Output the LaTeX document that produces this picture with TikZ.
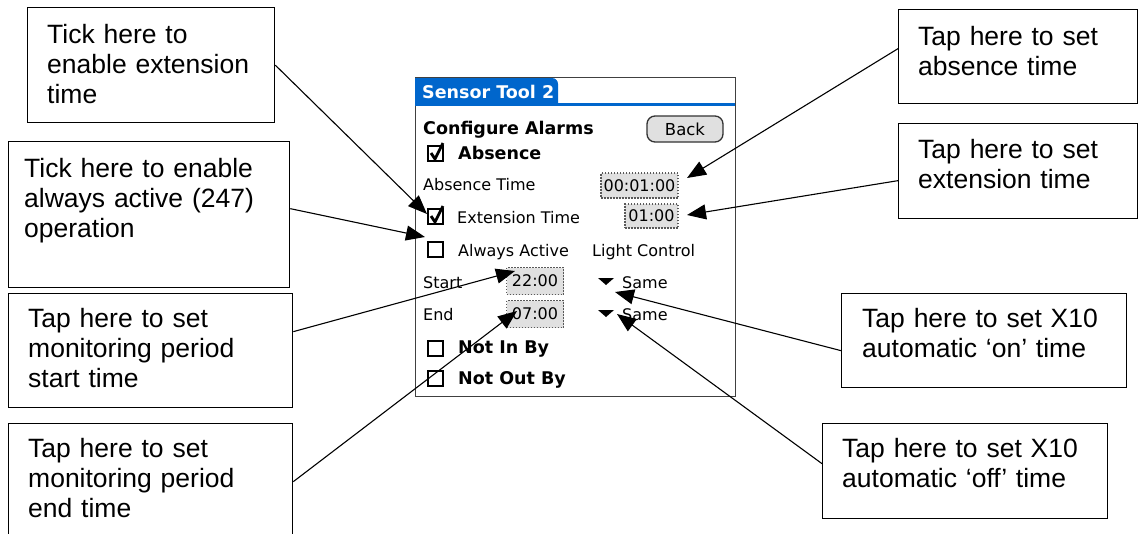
\documentclass[tikz,border=0pt]{standalone}
\usepackage{fontspec}
\setmainfont{Liberation Sans}
\newfontfamily\palm{DejaVu Sans}
\usetikzlibrary{arrows.meta,calc}

\definecolor{palmblue}{RGB}{0,102,204}
\definecolor{fieldgray}{RGB}{224,224,224}

\tikzset{
  callout/.style={draw, line width=1.3pt, inner sep=0pt, anchor=north west},
  note/.style={anchor=base west, inner sep=0pt, align=left, text width=270pt,
    font=\fontsize{26.5}{30}\selectfont},
  conn/.style={line width=1.1pt, -{Triangle[length=19pt,width=15pt]}},
  scr/.style={anchor=base west, inner sep=0pt, font=\palm\fontsize{16}{18}\selectfont},
  scrbold/.style={anchor=base west, inner sep=0pt, font=\palm\bfseries\fontsize{17.5}{19}\selectfont},
  timebox/.style={draw=black!65, dash pattern=on 1.5pt off 1.5pt, line width=1.5pt,
    fill=fieldgray, inner sep=0pt, font=\palm\fontsize{16}{18}\selectfont},
  cbox/.pic={\draw[line width=1.7pt] (0,0) rectangle (15,15);},
  cticked/.pic={\draw[line width=1.7pt] (0,0) rectangle (15,15);
    \draw[line width=2.8pt, line join=miter] (3,7) -- (7,13) -- (15,-3);},
  droptri/.pic={\fill (0,0) -- (16,0) -- (8,7) -- cycle;}
}

\begin{document}
\begin{tikzpicture}[x=1pt, y=-1pt]
\useasboundingbox (0,0) rectangle (1138,533);
\clip (0,0) rectangle (1138,533);

% ---------- handheld screen ----------
\draw[black!75, line width=0.9pt] (415,77) rectangle (735,396);
\fill[palmblue] (415,104) -- (415,78) -- (552,78) to[out=0,in=90] (558,84) -- (558,104) -- cycle;
\draw[palmblue, line width=3pt] (415,104.5) -- (735,104.5);
\node[anchor=base west, inner sep=0pt, text=white, font=\palm\bfseries\fontsize{17.5}{19}\selectfont]
  (title) at (422,98) {Sensor Tool 2};

\node[scrbold] (cfg) at (423,134) {Configure Alarms};
\node[draw=black!80, fill=fieldgray, line width=1.3pt, rounded corners=8pt,
  minimum width=76pt, minimum height=26pt, inner sep=0pt,
  font=\palm\fontsize{16.5}{18}\selectfont] (back) at (685,129) {Back};

\pic at (428,146) {cticked};
\node[scrbold] (absl) at (458,159) {Absence};

\node[scr] (abstime) at (423,190) {Absence Time};
\node[timebox, minimum width=77pt, minimum height=25pt] (absv) at (639.5,185.5) {00:01:00};

\pic at (428,209) {cticked};
\node[scr] (extl) at (457,223) {Extension Time};
\node[timebox, minimum width=53pt, minimum height=24pt] (extv) at (651.5,216) {01:00};

\pic at (428,242) {cbox};
\node[scr] (alwl) at (458,256) {Always Active};
\node[scr] (light) at (592,256) {Light Control};

\node[scr] (startl) at (423,288) {Start};
\node[timebox, minimum width=57pt, minimum height=27pt] (startv) at (535,281) {22:00};
\pic at (598,278) {droptri};
\node[scr] (same1) at (622,288) {Same};

\node[scr] (endl) at (423,320) {End};
\node[timebox, minimum width=57pt, minimum height=27pt] (endv) at (535,314) {07:00};
\pic at (598,310) {droptri};
\node[scr] (same2) at (622,320) {Same};

\pic at (428,341) {cbox};
\node[scrbold] (notin) at (458,353) {Not In By};
\pic at (428,371) {cbox};
\node[scrbold] (notout) at (458,384) {Not Out By};

% ---------- arrow targets on the screen ----------
\coordinate (tipExtChk) at (427,214);
\coordinate (tipAlwChk) at (425,237);
\coordinate (tipStart)  at (515,271);
\coordinate (tipEnd)    at (517,311);
\coordinate (tipAbs)    at (687,178);
\coordinate (tipExt)    at (687,215);
\coordinate (tipOn)     at (615,292);
\coordinate (tipOff)    at (617,314);

% ---------- callout boxes ----------
\node[callout, minimum width=247pt, minimum height=115pt] (b1) at (27,7) {};
\node[note] (t1) at ($(b1.north west)+(20,36)$) {Tick here to\\enable extension\\time};

\node[callout, minimum width=281pt, minimum height=146pt] (b2) at (8,141) {};
\node[note] (t2) at ($(b2.north west)+(16,36)$) {Tick here to enable\\always active (247)\\operation};

\node[callout, minimum width=284pt, minimum height=114pt] (b3) at (8,293) {};
\node[note] (t3) at ($(b3.north west)+(20,34)$) {Tap here to set\\monitoring period\\start time};

\node[callout, minimum width=284pt, minimum height=116pt] (b4) at (8,423) {};
\node[note] (t4) at ($(b4.north west)+(20,34)$) {Tap here to set\\monitoring period\\end time};

\node[callout, minimum width=239pt, minimum height=94pt] (b5) at (898,9) {};
\node[note] (t5) at ($(b5.north west)+(20,36)$) {Tap here to set\\absence time};

\node[callout, minimum width=239pt, minimum height=95pt] (b6) at (898,123) {};
\node[note] (t6) at ($(b6.north west)+(20,35)$) {Tap here to set\\extension time};

\node[callout, minimum width=285pt, minimum height=94pt] (b7) at (841,293) {};
\node[note] (t7) at ($(b7.north west)+(21,34)$) {Tap here to set X10\\automatic ‘on’ time};

\node[callout, minimum width=285pt, minimum height=95pt] (b8) at (822,423) {};
\node[note] (t8) at ($(b8.north west)+(20,34)$) {Tap here to set X10\\automatic ‘off’ time};

% ---------- connectors ----------
\draw[conn] (b1.east) -- (tipExtChk);
\draw[conn] ($(b2.east)+(0,-6)$) -- (tipAlwChk);
\draw[conn] ($(b3.east)+(0,-19)$) -- (tipStart);
\draw[conn] (b4.east) -- (tipEnd);
\draw[conn] ($(b5.west)+(0,-8)$) -- (tipAbs);
\draw[conn] ($(b6.west)+(0,9.5)$) -- (tipExt);
\draw[conn] ($(b7.west)+(0,10)$) -- (tipOn);
\draw[conn] ($(b8.west)+(0,-7.5)$) -- (tipOff);
\end{tikzpicture}
\end{document}
